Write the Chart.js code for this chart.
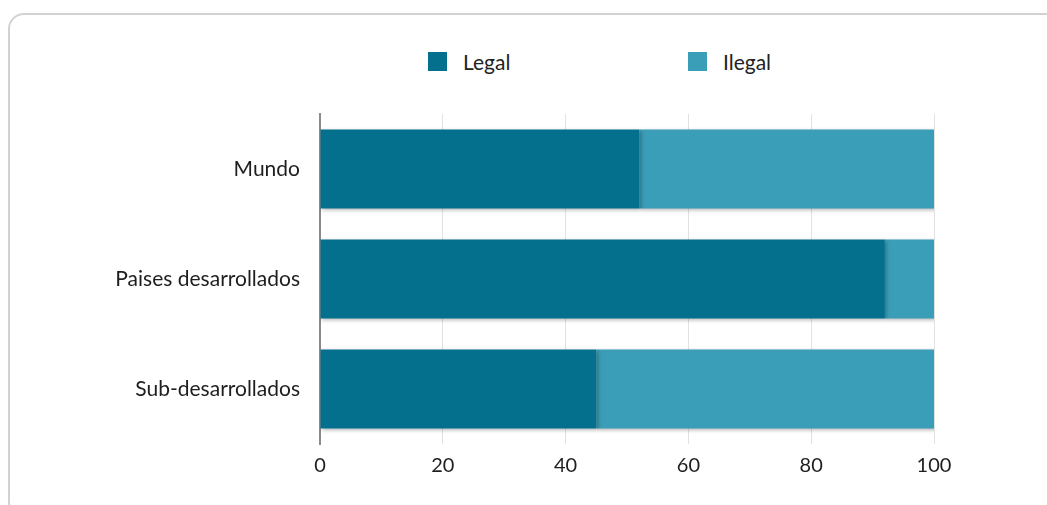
<!DOCTYPE html>
<html lang="es">
<head>
    <meta charset="UTF-8">
    <title>Legal / Ilegal</title>
    <style>
        body {
            margin: 0;
            width: 1047px;
            height: 505px;
            overflow: hidden;
            background: #fff;
            font-family: Lato, "Open Sans", sans-serif;
            position: relative;
        }
        .card {
            position: absolute;
            left: 8px;
            top: 13px;
            width: 1080px;
            height: 505px;
            border: 2px solid #d2d2d2;
            border-radius: 16px;
            box-sizing: border-box;
        }
        .legend {
            position: absolute;
            top: 49px;
            left: 0;
            width: 1047px;
            height: 26px;
        }
        .legend-item {
            position: absolute;
            top: 0;
            display: flex;
            align-items: center;
            font-size: 21px;
            color: #222;
        }
        .legend-box {
            width: 19px;
            height: 19px;
            margin-right: 16px;
        }
        #chart-wrap {
            position: absolute;
            left: 0;
            top: 0;
            width: 1047px;
            height: 505px;
        }
    </style>
</head>
<body>
    <div class="card"></div>
    <div class="legend" id="legend"></div>
    <div id="chart-wrap"><canvas id="barChart"></canvas></div>
    <script src="https://cdn.jsdelivr.net/npm/chart.js"></script>
    <script>
        const categories = ['Mundo', 'Paises desarrollados', 'Sub-desarrollados'];
        const legalValues = [52, 92, 45];
        const ilegalValues = [48, 8, 55];
        const xTicks = [0, 20, 40, 60, 80, 100];
        const seriesNames = ['Legal', 'Ilegal'];
        const seriesColors = ['#04708e', '#3a9eb8'];

        // legend drawn as html above the canvas
        const legendX = [428, 688];
        const legendEl = document.getElementById('legend');
        seriesNames.forEach((name, i) => {
            const item = document.createElement('div');
            item.className = 'legend-item';
            item.style.left = legendX[i] + 'px';
            item.innerHTML = '<div class="legend-box" style="background:' + seriesColors[i] + '"></div><span>' + name + '</span>';
            legendEl.appendChild(item);
        });

        // soft shadow under the bars
        const barShadow = {
            id: 'barShadow',
            beforeDatasetsDraw(chart) {
                const ctx = chart.ctx;
                ctx.save();
                ctx.shadowColor = 'rgba(0, 0, 0, 0.3)';
                ctx.shadowBlur = 4;
                ctx.shadowOffsetX = 1.5;
                ctx.shadowOffsetY = 1.5;
            },
            afterDatasetsDraw(chart) {
                chart.ctx.restore();
            }
        };

        Chart.defaults.font.family = 'Lato, "Open Sans", sans-serif';
        Chart.defaults.color = '#222';

        new Chart(document.getElementById('barChart'), {
            type: 'bar',
            data: {
                labels: categories,
                datasets: [
                    { label: seriesNames[0], data: legalValues, backgroundColor: seriesColors[0] },
                    { label: seriesNames[1], data: ilegalValues, backgroundColor: seriesColors[1] }
                ]
            },
            options: {
                indexAxis: 'y',
                responsive: true,
                maintainAspectRatio: false,
                animation: false,
                datasets: {
                    bar: { barPercentage: 0.72, categoryPercentage: 1 }
                },
                layout: {
                    padding: { top: 114, right: 113, bottom: 0, left: 0 }
                },
                plugins: {
                    legend: { display: false },
                    tooltip: { enabled: false }
                },
                scales: {
                    x: {
                        stacked: true,
                        min: 0,
                        max: 100,
                        afterBuildTicks(scale) {
                            scale.ticks = xTicks.map(v => ({ value: v }));
                        },
                        afterFit(scale) {
                            scale.height = 61;
                        },
                        grid: { color: '#e2e2e2', lineWidth: 1, drawTicks: false },
                        border: { display: false },
                        ticks: { padding: 10, font: { size: 20 }, color: '#1e1e1e' }
                    },
                    y: {
                        stacked: true,
                        afterFit(scale) {
                            scale.width = 320;
                        },
                        grid: { display: false, drawTicks: false },
                        border: { display: true, color: '#8a8a8a', width: 2 },
                        ticks: { padding: 20, font: { size: 21 }, color: '#1e1e1e' }
                    }
                }
            },
            plugins: [barShadow]
        });
    </script>
</body>
</html>
